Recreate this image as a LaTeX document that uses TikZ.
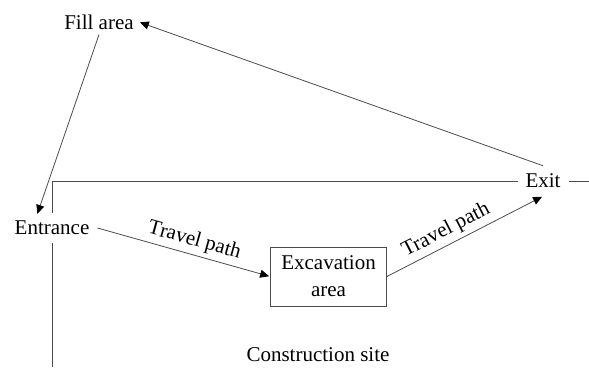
\documentclass[tikz,border=0pt]{standalone}
\usepackage{fontspec}
\setmainfont{Liberation Serif}
\usetikzlibrary{arrows.meta,calc}
\begin{document}
\begin{tikzpicture}[x=1pt,y=-1pt,
  lbl/.style={font=\fontsize{21}{27}\selectfont, text=black},
  wlbl/.style={lbl, fill=white, inner sep=8pt},
  conn/.style={draw=black!70, line width=0.8pt},
  arr/.style={conn, -{Triangle[length=9pt,width=8pt,color=black]}, shorten >=1pt},
  boxnode/.style={lbl, draw=black!70, line width=0.8pt, minimum width=116pt, minimum height=59pt, align=center, inner sep=2pt}]
\useasboundingbox (0,0) rectangle (589,367);
\coordinate (bl) at (52,367);
\coordinate (tl) at (52,181);
\coordinate (tr) at (589,181);
\draw[conn] (bl) -- (tl) -- (tr);
\node[lbl, inner sep=5pt] (fill) at (99,22) {Fill area};
\node[wlbl] (ent) at (52,228) {Entrance};
\node[wlbl] (exit) at (543,181) {Exit};
\node[boxnode] (exc) at (328.5,276.5) {Excavation\\area};
\node[lbl] (site) at (318,355) {Construction site};
\coordinate (enttip) at ($(ent.north)+(-15,2)$);
\draw[arr] (exit.north) -- (fill.east);
\draw[arr] (fill.south) -- (enttip);
\draw[arr] (ent.east) -- node[lbl, sloped, above, pos=0.54, inner sep=4pt] {Travel path} (exc.west);
\draw[arr] (exc.east) -- node[lbl, sloped, above, pos=0.42, inner sep=4pt] {Travel path} (exit.south);
\end{tikzpicture}
\end{document}
